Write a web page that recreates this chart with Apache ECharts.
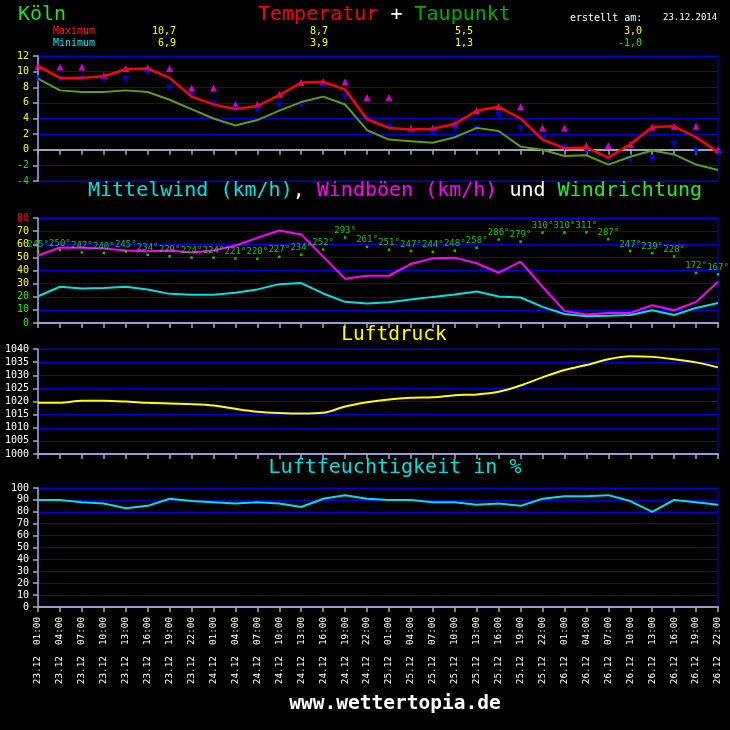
<!DOCTYPE html>
<html><head><meta charset="utf-8">
<script src="https://cdn.jsdelivr.net/npm/echarts@6/dist/echarts.min.js"></script>
<style>html,body{margin:0;padding:0;background:#000;}#c{width:730px;height:730px;}</style>
</head><body><div id="c"></div>
<script>
// ---- data ----
const days = ['23.12', '24.12', '25.12', '26.12'];
const hours = ['01:00', '04:00', '07:00', '10:00', '13:00', '16:00', '19:00', '22:00'];
const temperature = [10.7, 9.2, 9.2, 9.4, 10.3, 10.4, 9.2, 6.8, 5.8, 5.2, 5.6, 7.0, 8.6, 8.7, 7.7, 3.9,
                     2.8, 2.6, 2.7, 3.3, 5.0, 5.5, 4.0, 1.3, 0.2, 0.3, -1.0, 0.7, 2.9, 3.0, 1.6, -0.3];
const dewpoint = [9.1, 7.6, 7.4, 7.4, 7.6, 7.4, 6.4, 5.2, 4.0, 3.1, 3.8, 5.0, 6.1, 6.8, 5.8, 2.5,
                  1.3, 1.1, 0.9, 1.6, 2.8, 2.4, 0.4, 0.0, -0.8, -0.7, -1.9, -0.9, -0.1, -0.6, -1.9, -2.6];
const tempMax = [10.7, 10.6, 10.6, 9.5, 10.4, 10.5, 10.4, 7.9, 7.9, 5.8, 5.8, 7.1, 8.6, 8.7, 8.7, 6.7,
                 6.7, 2.8, 2.8, 3.3, 5.0, 5.5, 5.5, 2.8, 2.8, 0.5, 0.5, 0.7, 2.9, 3.0, 3.0, 0.0];
const tempMin = [9.1, 9.1, 9.1, 9.0, 9.0, 9.9, 7.9, 6.9, 5.9, 5.1, 5.1, 5.7, 5.7, 8.2, 6.8, 3.9,
                 2.9, 2.4, 2.4, 2.7, 2.7, 4.4, 2.7, 1.4, 0.3, -0.2, -1.2, -1.2, -1.2, 0.7, -0.2, -0.4];
const gusts = [51.4, 57.5, 57.3, 56.7, 55.2, 54.7, 55.2, 53.7, 55.2, 59.0, 64.9, 70.5, 67.5, 50.6, 33.7, 36.0,
               36.0, 45.0, 49.3, 49.8, 45.5, 38.3, 46.8, 27.6, 9.2, 6.4, 7.7, 7.7, 13.5, 9.7, 16.1, 31.4];
const meanWind = [20.4, 27.6, 26.3, 26.6, 27.6, 25.6, 22.2, 21.5, 21.5, 23.0, 25.6, 29.6, 30.4, 22.5, 16.1, 14.8,
                  15.8, 17.9, 19.9, 21.7, 24.0, 20.2, 19.4, 12.3, 6.9, 5.1, 5.6, 6.1, 9.7, 6.1, 11.5, 15.3];
const windDir = [245, 250, 242, 240, 245, 234, 229, 224, 224, 221, 220, 227, 234, 252, 293, 261,
                 251, 247, 244, 248, 258, 286, 279, 310, 310, 311, 287, 247, 239, 228, 172, 167];
const pressure = [1019.5, 1019.5, 1020.3, 1020.3, 1020.0, 1019.5, 1019.2, 1019.0, 1018.5, 1017.2, 1016.1, 1015.6, 1015.4, 1015.7, 1018.1, 1019.7,
                  1020.8, 1021.4, 1021.6, 1022.4, 1022.7, 1023.7, 1026.1, 1029.2, 1032.0, 1033.9, 1036.1, 1037.2, 1037.0, 1036.1, 1034.9, 1033.0];
const humidity = [90, 90, 88, 87, 83, 85, 91, 89, 88, 87, 88, 87, 84, 91, 94, 91,
                  90, 90, 88, 88, 86, 87, 85, 91, 93, 93, 94, 89, 80, 90, 88, 86];
const dayMaxLabels = ['10,7', '8,7', '5,5', '3,0'];
const dayMinLabels = ['6,9', '3,9', '1,3', '-1,0'];

// ---- chart ----
const FONT = '"DejaVu Sans Mono", monospace';
const categories = [];
days.forEach(d => hours.forEach(h => categories.push(d + '  ' + h)));

const BLUE = '#0000dd';
const gridBase = {left: 38, right: 12, show: true, borderColor: BLUE, borderWidth: 1, backgroundColor: 'transparent', containLabel: false, outerBoundsMode: 'none'};
const grids = [
  Object.assign({top: 56, height: 125}, gridBase),
  Object.assign({top: 218, height: 105}, gridBase),
  Object.assign({top: 349, height: 105}, gridBase),
  Object.assign({top: 488, height: 119}, gridBase)
];

function xAx(i) {
  return {
    gridIndex: i, type: 'category', data: categories, boundaryGap: false,
    axisLine: {show: true, onZero: i === 0, lineStyle: {color: i === 0 ? '#a0a0c0' : '#9a9ad8', width: 2}},
    axisTick: {show: true, interval: 0, length: 5, lineStyle: {color: '#aaaaaa', width: 1.5}},
    axisLabel: i === 3 ? {show: true, interval: 0, rotate: 90, color: '#ffffff', fontFamily: FONT, fontSize: 9.3, margin: 10}
                       : {show: false},
    splitLine: {show: false}
  };
}
function yAx(i, min, max, interval, colorFn) {
  return {
    gridIndex: i, type: 'value', min: min, max: max, interval: interval,
    axisLine: {show: true, onZero: false, lineStyle: {color: '#aaaacc', width: 1.5}},
    axisTick: {show: true, length: 5, lineStyle: {color: '#aaaaaa', width: 1.5}},
    axisLabel: {color: colorFn, fontFamily: FONT, fontSize: 10, margin: 9, formatter: v => String(v)},
    splitLine: {show: true, lineStyle: {color: BLUE, width: 1}}
  };
}

function T(x, y, text, fill, size, align, weight) {
  const font = (weight || 'normal') + ' ' + size + 'px ' + FONT;
  return {type: 'text', x: x, y: y, silent: true, z: 100,
    style: {text: text, fill: fill, font: font, align: align || 'left', verticalAlign: 'middle',
            textAlign: align || 'left', textVerticalAlign: 'middle'}};
}

const cw = 20 * 0.602;
const graphics = [
  T(18, 15, 'Köln', '#22dd22', 20),
  T(258, 15, 'Temperatur', '#ff0000', 20),
  T(258 + 11 * cw, 15, '+', '#ffffff', 20),
  T(258 + 13 * cw, 15, 'Taupunkt', '#00aa00', 20),
  T(570, 18, 'erstellt am:', '#ffffff', 10),
  T(663, 18, '23.12.2014', '#ffffff', 9),
  T(53, 31, 'Maximum', '#ff2020', 10),
  T(53, 43, 'Minimum', '#00e8e8', 10),
  T(88, 191, 'Mittelwind (km/h)', '#00e0e0', 20),
  T(88 + 17 * cw, 191, ',', '#ffffff', 20),
  T(88 + 19 * cw, 191, 'Windböen (km/h)', '#ff00ff', 20),
  T(88 + 35 * cw, 191, 'und', '#ffffff', 20),
  T(88 + 39 * cw, 191, 'Windrichtung', '#22ee22', 20),
  T(394, 335, 'Luftdruck', '#ffff00', 19.5, 'center'),
  T(395, 468, 'Luftfeuchtigkeit in %', '#00e0e0', 20, 'center'),
  T(395, 704, 'www.wettertopia.de', '#ffffff', 19.5, 'center', 'bold')
];
const valueX = [176, 328, 473, 642];
dayMaxLabels.forEach((v, i) => graphics.push(T(valueX[i], 31, v, '#ffff00', 10, 'right')));
dayMinLabels.forEach((v, i) => graphics.push(T(valueX[i], 43, v, v.charAt(0) === '-' ? '#22dd22' : '#ffff00', 10, 'right')));

const option = {
  backgroundColor: '#000000',
  animation: false,
  grid: grids,
  xAxis: [xAx(0), xAx(1), xAx(2), xAx(3)],
  yAxis: [
    yAx(0, -4, 12, 2, v => (v < 0 ? '#22dd22' : '#ffff00')),
    yAx(1, 0, 80, 10, v => (v >= 80 ? '#ff0000' : (v >= 30 ? '#ffff00' : '#22ee22'))),
    yAx(2, 1000, 1040, 5, () => '#ffffff'),
    yAx(3, 0, 100, 10, () => '#ffffff'),
    {gridIndex: 1, type: 'value', min: 0, max: 360, show: false, splitLine: {show: false}}
  ],
  graphic: graphics,
  series: [
    {type: 'scatter', xAxisIndex: 0, yAxisIndex: 0, data: tempMax, symbol: 'triangle', symbolSize: 7,
     itemStyle: {color: '#ff00ff'}, z: 2},
    {type: 'scatter', xAxisIndex: 0, yAxisIndex: 0, data: tempMin, symbol: 'triangle', symbolRotate: 180, symbolSize: 7,
     itemStyle: {color: '#0000ff'}, z: 2},
    {type: 'line', xAxisIndex: 0, yAxisIndex: 0, data: dewpoint, showSymbol: false,
     lineStyle: {color: '#5a9e1a', width: 2}, z: 3},
    {type: 'line', xAxisIndex: 0, yAxisIndex: 0, data: temperature, showSymbol: false,
     lineStyle: {color: '#ff0000', width: 2.5}, z: 4},

    {type: 'line', xAxisIndex: 1, yAxisIndex: 1, data: gusts, showSymbol: false,
     lineStyle: {color: '#ff00ff', width: 2}, z: 3},
    {type: 'line', xAxisIndex: 1, yAxisIndex: 1, data: meanWind, showSymbol: false,
     lineStyle: {color: '#00e0e0', width: 2}, z: 3},
    {type: 'scatter', xAxisIndex: 1, yAxisIndex: 4, data: windDir, symbol: 'rect', symbolSize: 2.5,
     itemStyle: {color: '#22ee22'}, z: 5,
     label: {show: true, position: 'top', distance: 1, color: '#22ee22', fontFamily: FONT, fontSize: 9,
             formatter: p => p.value + '°'}},

    {type: 'line', xAxisIndex: 2, yAxisIndex: 2, data: pressure, showSymbol: false, smooth: 0.3,
     lineStyle: {color: '#ffff00', width: 2}},

    {type: 'line', xAxisIndex: 3, yAxisIndex: 3, data: humidity, showSymbol: false,
     lineStyle: {color: '#00e0e0', width: 2}}
  ]
};
const chart = echarts.init(document.getElementById('c'));
chart.setOption(option);
</script>
</body></html>
